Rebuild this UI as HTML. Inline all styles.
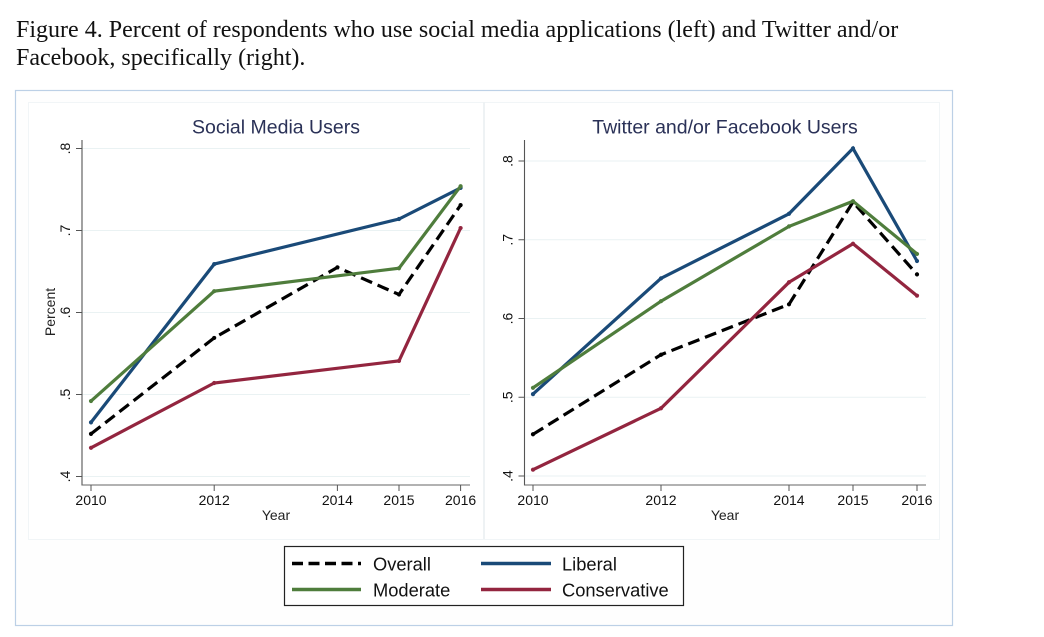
<!DOCTYPE html>
<html lang="en">
<head>
<meta charset="utf-8">
<title>Figure 4</title>
<style>
html,body{margin:0;padding:0;background:#fff;width:1044px;height:637px;overflow:hidden}
svg{display:block;position:absolute;left:0;top:0}
#cap{position:absolute;left:16px;top:16px;width:1020px;font:24.03px/28px "Liberation Serif",serif;color:#111;white-space:nowrap}
</style>
</head>
<body>
<svg id="chart" width="1044" height="637" viewBox="0 0 1044 637" font-family="'Liberation Sans',sans-serif">
  <rect x="15.5" y="90.5" width="937" height="535" fill="#fefefe" stroke="#bcd0e6" stroke-width="1.2"/>
  <rect x="28.5" y="102.5" width="911" height="437" fill="#ffffff" stroke="#f1f5f7" stroke-width="1"/>
  <line x1="484" y1="102" x2="484" y2="539" stroke="#eef2f4" stroke-width="2"/>
  <g id="panels"></g>
  <g>
    <rect x="284.5" y="546.5" width="399" height="59" fill="#fff" stroke="#222" stroke-width="1.2"/>
    <line x1="292" y1="563.5" x2="361" y2="563.5" stroke="#000" stroke-width="3.4" stroke-dasharray="11 5.5"/>
    <text x="373" y="570.5" font-size="18.3" fill="#111">Overall</text>
    <line x1="481" y1="563.5" x2="551" y2="563.5" stroke="#1a4a78" stroke-width="3.4"/>
    <text x="562" y="570.5" font-size="18.3" fill="#111">Liberal</text>
    <line x1="292" y1="589.5" x2="361" y2="589.5" stroke="#4f7d3c" stroke-width="3.4"/>
    <text x="373" y="596.5" font-size="18.3" fill="#111">Moderate</text>
    <line x1="481" y1="589.5" x2="551" y2="589.5" stroke="#93253f" stroke-width="3.4"/>
    <text x="562" y="596.5" font-size="18.3" fill="#111">Conservative</text>
  </g>
</svg>
<div id="cap">Figure 4. Percent of respondents who use social media applications (left) and Twitter and/or<br>Facebook, specifically (right).</div>
<script>
const years = [2010, 2012, 2014, 2015, 2016];
const yTicks = [0.4, 0.5, 0.6, 0.7, 0.8];
const yTickLabels = ['.4', '.5', '.6', '.7', '.8'];
const seriesNames = ['overall', 'liberal', 'moderate', 'conservative'];
const leftOverall = [0.452, 0.569, 0.655, 0.622, 0.731];
const leftLiberal = [0.466, 0.659, null, 0.714, 0.752];
const leftModerate = [0.492, 0.626, null, 0.654, 0.754];
const leftConservative = [0.435, 0.514, null, 0.541, 0.703];
const rightOverall = [0.453, 0.554, 0.618, 0.748, 0.656];
const rightLiberal = [0.504, 0.651, 0.733, 0.816, 0.673];
const rightModerate = [0.512, 0.622, 0.717, 0.749, 0.682];
const rightConservative = [0.408, 0.486, 0.646, 0.695, 0.629];

const NS = 'http://www.w3.org/2000/svg';
const root = document.getElementById('panels');
const colors = {overall: '#000000', liberal: '#1a4a78', moderate: '#4f7d3c', conservative: '#93253f'};

function make(parent, tag, attrs, txt) {
  const el = document.createElementNS(NS, tag);
  for (const k in attrs) el.setAttribute(k, attrs[k]);
  if (txt !== undefined) el.textContent = txt;
  parent.appendChild(el);
  return el;
}

function drawPanel(cfg) {
  const g = make(root, 'g', {});
  
  
  const xs = v => cfg.x0 + (v - 2010) * cfg.xPerYear;
  const ys = v => cfg.y4 - (v - 0.4) * cfg.yPerUnit;

  yTicks.forEach((t, i) => {
    const y = ys(t);
    const grid = make(g, 'line', {x1: cfg.axisX, x2: cfg.gridEnd, y1: y, y2: y, stroke: '#eaf2f3', 'stroke-width': 1});
    
    
    const tick = make(g, 'line', {x1: cfg.axisX - 6, x2: cfg.axisX, y1: y, y2: y, stroke: '#555', 'stroke-width': 1});
    
    
    const lx = cfg.axisX - 12;
    const lab = make(g, 'text', {x: lx, y: y, 'font-size': 14, fill: '#111', 'text-anchor': 'middle', transform: 'rotate(-90 ' + lx + ' ' + y + ')'}, yTickLabels[i]);
    
    
  });

  const yAxis = make(g, 'line', {x1: cfg.axisX, x2: cfg.axisX, y1: 140, y2: 485.5, stroke: '#555', 'stroke-width': 1.1});
  
  
  const xAxis = make(g, 'line', {x1: cfg.axisX, x2: cfg.gridEnd, y1: 485, y2: 485, stroke: '#666', 'stroke-width': 1.1});
  
  

  years.forEach(yr => {
    const x = xs(yr);
    const tick = make(g, 'line', {x1: x, x2: x, y1: 485, y2: 491, stroke: '#555', 'stroke-width': 1});
    
    
    const lab = make(g, 'text', {x: x, y: 505, 'font-size': 14, fill: '#111', 'text-anchor': 'middle'}, String(yr));
    
    
  });

  const xt = make(g, 'text', {x: cfg.xTitleX, y: 520, 'font-size': 14, fill: '#222', 'text-anchor': 'middle'}, 'Year');
  
  
  const tt = make(g, 'text', {x: cfg.titleX, y: 133.5, 'font-size': 19.5, fill: '#2a3157', 'text-anchor': 'middle'}, cfg.title);
  
  

  seriesNames.forEach((name, si) => {
    const vals = cfg.series[si];
    const pts = [];
    vals.forEach((v, i) => {
      if (v === null) return;
      pts.push(xs(years[i]).toFixed(1) + ',' + ys(v).toFixed(1));
    });
    const attrs = {points: pts.join(' '), fill: 'none', stroke: colors[name], 'stroke-width': 3.2, 'stroke-linejoin': 'miter'};
    if (name === 'overall') attrs['stroke-dasharray'] = '12 6';
    const line = make(g, 'polyline', attrs);
    
    
    vals.forEach((v, i) => {
      if (v === null) return;
      const dot = make(g, 'circle', {cx: xs(years[i]), cy: ys(v), r: 2.1, fill: colors[name]});
      
      
    });
  });
}

drawPanel({id: 'left', title: 'Social Media Users', titleX: 276, xTitleX: 276, x0: 91, xPerYear: 61.6, y4: 476.5, yPerUnit: 820, axisX: 82, gridEnd: 470, series: [leftOverall, leftLiberal, leftModerate, leftConservative]});
drawPanel({id: 'right', title: 'Twitter and/or Facebook Users', titleX: 725, xTitleX: 725, x0: 533, xPerYear: 64, y4: 476, yPerUnit: 787.5, axisX: 524.5, gridEnd: 926, series: [rightOverall, rightLiberal, rightModerate, rightConservative]});

const yTitle = make(root, 'text', {x: 55, y: 312, 'font-size': 14, fill: '#222', 'text-anchor': 'middle', transform: 'rotate(-90 55 312)'}, 'Percent');


</script>
</body>
</html>
